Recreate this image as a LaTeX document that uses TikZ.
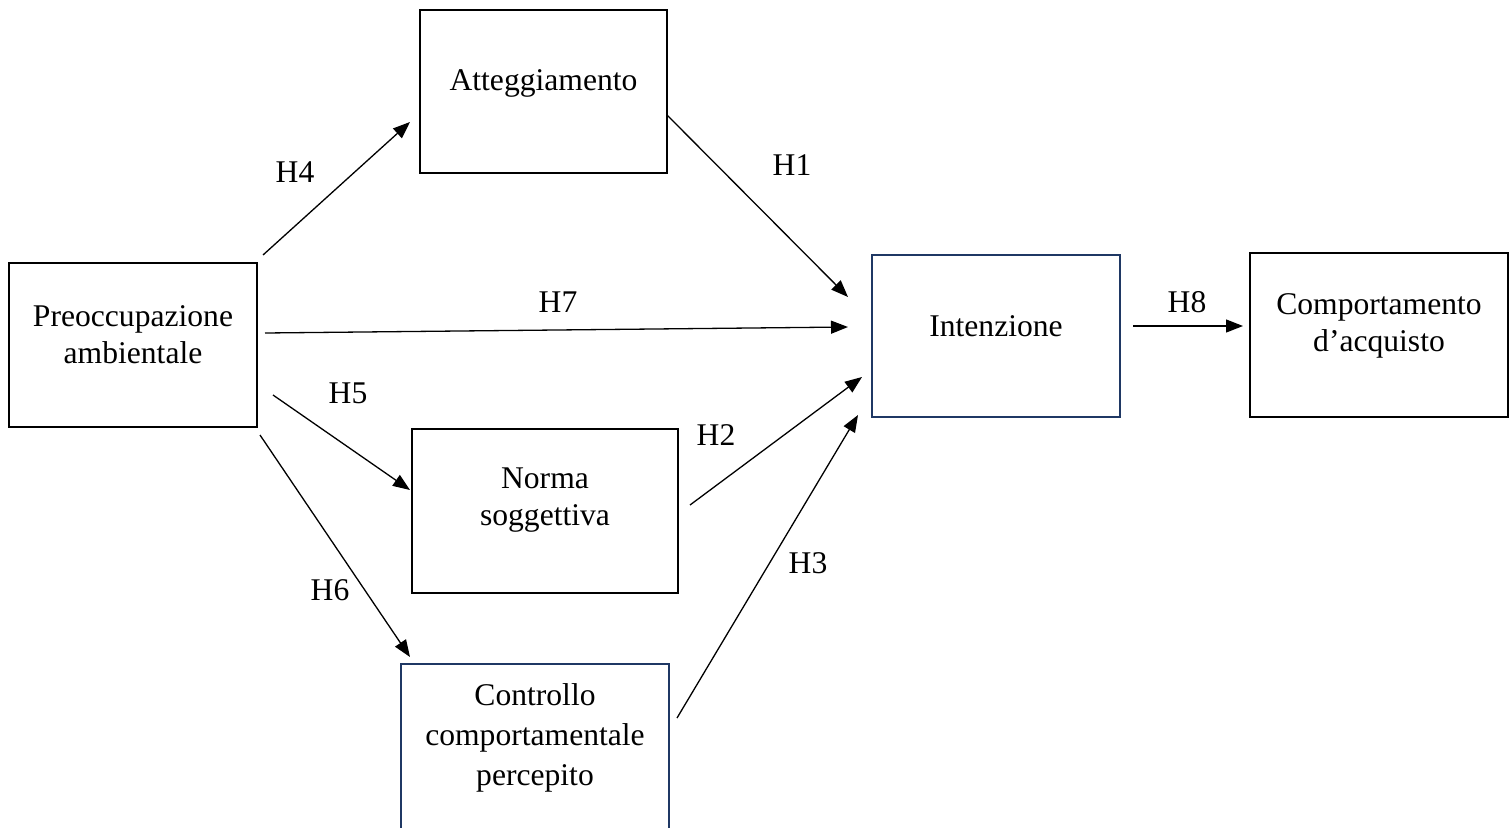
\documentclass[tikz,border=0pt]{standalone}
\usepackage{fontspec}
\setmainfont{Liberation Serif}
\usetikzlibrary{arrows.meta}
\definecolor{navy}{HTML}{1F3864}
\tikzset{
  x=1pt,y=-1pt,
  box/.style={draw=black,line width=2pt,rectangle,inner sep=0pt},
  navybox/.style={box,draw=navy},
  txt/.style={align=center,inner sep=0pt,font=\fontsize{31.6}{37}\selectfont},
  lbl/.style={inner sep=0pt,font=\fontsize{31.6}{37}\selectfont},
  arr/.style={line width=1.3pt,-{Triangle[length=17pt,width=13pt]}}
}
\begin{document}
\begin{tikzpicture}
\useasboundingbox (0,0) rectangle (1512,827);
\clip (0,0) rectangle (1512,827);
% boxes
\node[box,minimum width=247pt,minimum height=163pt] (att) at (543.5,91.5) {};
\node[box,minimum width=248pt,minimum height=164pt] (pre) at (133,345) {};
\node[navybox,minimum width=248pt,minimum height=162pt] (int) at (996,336) {};
\node[box,minimum width=258pt,minimum height=164pt] (com) at (1379,335) {};
\node[box,minimum width=266pt,minimum height=164pt] (nor) at (545,511) {};
\node[navybox,minimum width=268pt,minimum height=170pt] (con) at (535,749) {};
% texts
\node[txt] (attT) at (543.5,83) {Atteggiamento};
\node[txt] (preT) at (133,335) {Preoccupazione\\ambientale};
\node[txt] (intT) at (996,326) {Intenzione};
\node[txt] (comT) at (1379,326) {Comportamento\\d’acquisto};
\node[txt] (norT) at (545,500) {Norma\\soggettiva};
\node[txt,font=\fontsize{31.6}{40}\selectfont] (conT) at (535,738) {Controllo\\comportamentale\\percepito};
% connector end points
\coordinate (h4s) at (263,255);  \coordinate (h4e) at (410,122);
\coordinate (h1s) at (667,115);  \coordinate (h1e) at (848,297);
\coordinate (h7s) at (265,333);  \coordinate (h7e) at (848,327);
\coordinate (h5s) at (273,395);  \coordinate (h5e) at (410,490);
\coordinate (h2s) at (690,505);  \coordinate (h2e) at (862,377);
\coordinate (h6s) at (260,435);  \coordinate (h6e) at (410,657);
\coordinate (h3s) at (677,718);  \coordinate (h3e) at (858,415);
\coordinate (h8s) at (1133,326); \coordinate (h8e) at (1243,326);
\draw[arr] (h4s) -- (h4e);
\draw[arr] (h1s) -- (h1e);
\draw[arr] (h7s) -- (h7e);
\draw[arr] (h5s) -- (h5e);
\draw[arr] (h2s) -- (h2e);
\draw[arr] (h6s) -- (h6e);
\draw[arr] (h3s) -- (h3e);
\draw[arr] (h8s) -- (h8e);
% labels
\node[lbl] (l4) at (295,172) {H4};
\node[lbl] (l1) at (792,165) {H1};
\node[lbl] (l7) at (558,302) {H7};
\node[lbl] (l5) at (348,393) {H5};
\node[lbl] (l2) at (716,435) {H2};
\node[lbl] (l6) at (330,590) {H6};
\node[lbl] (l3) at (808,563) {H3};
\node[lbl] (l8) at (1187,302) {H8};
\end{tikzpicture}
\end{document}
